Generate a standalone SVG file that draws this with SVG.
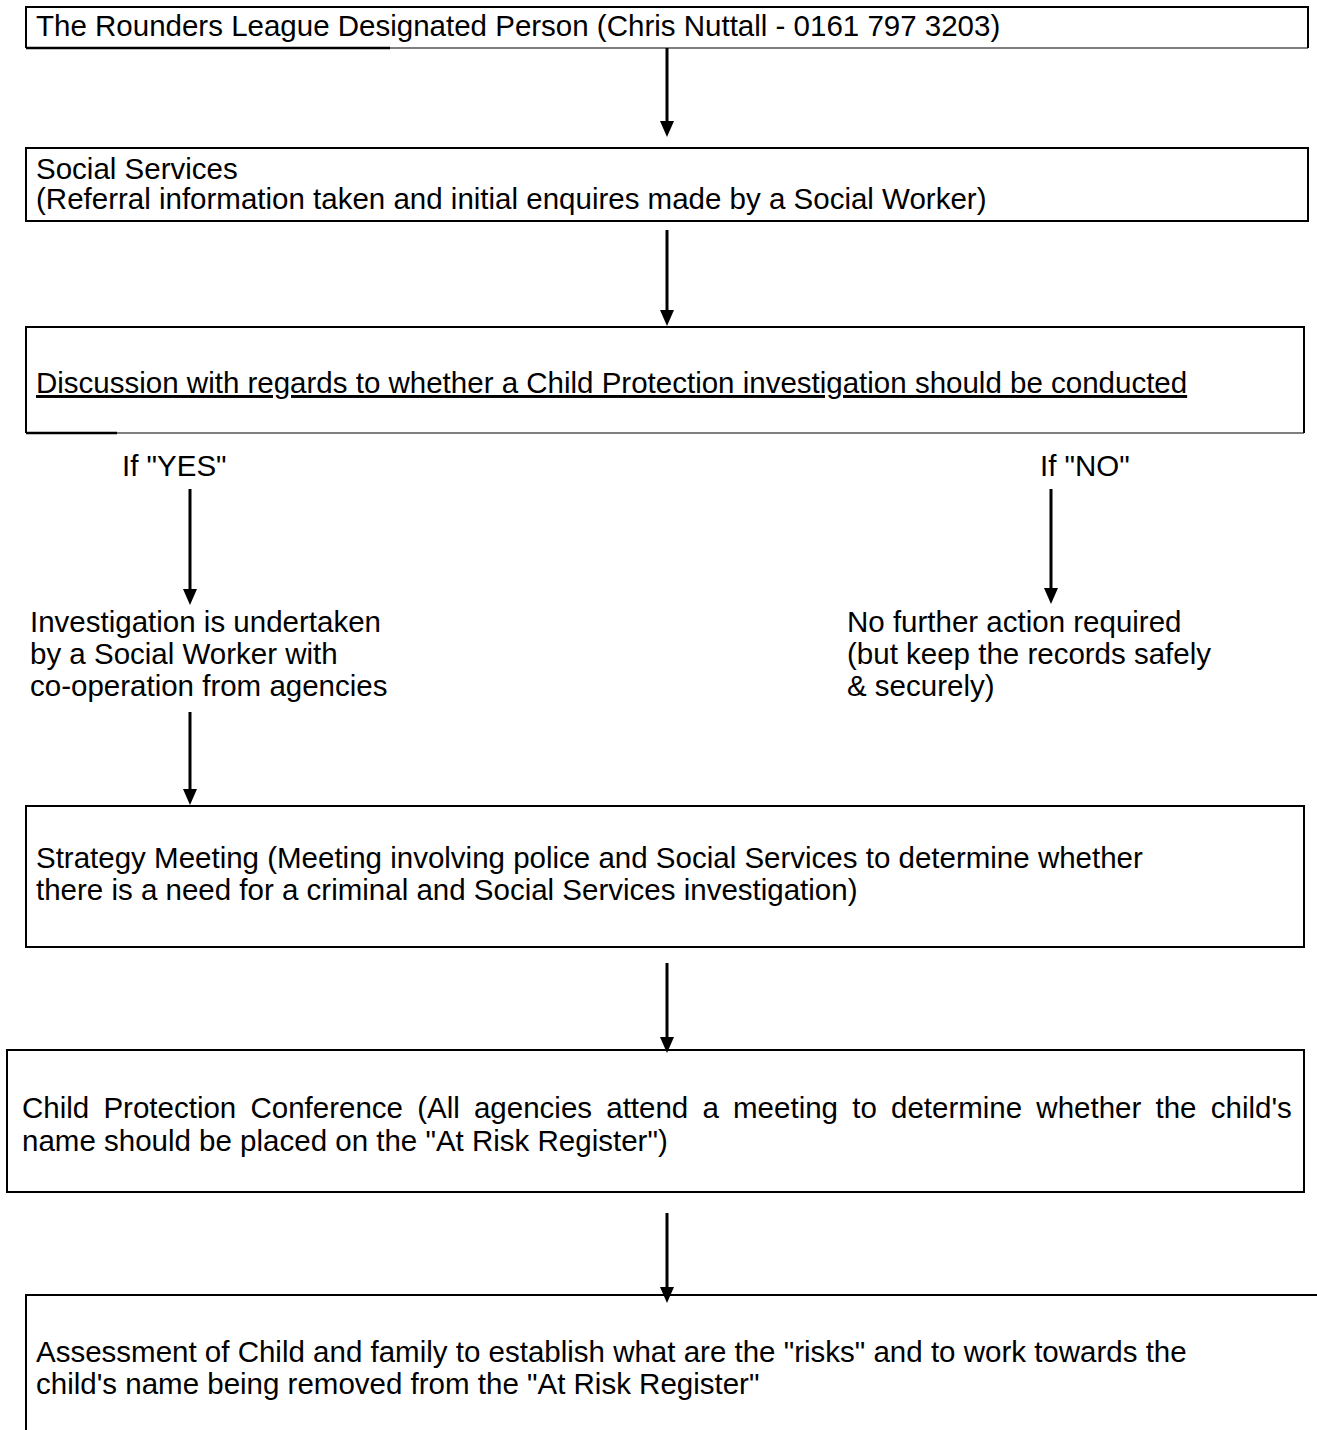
<svg xmlns="http://www.w3.org/2000/svg" width="1317" height="1430" viewBox="0 0 1317 1430">
<style>
  .box { fill: none; stroke: #000; stroke-width: 2; }
  .thin { fill: none; stroke: #000; stroke-width: 1.2; }
  .thick { fill: none; stroke: #000; stroke-width: 2.4; }
  .t { font-family: "Liberation Sans", Arial, sans-serif; font-size: 29.5px; fill: #000; }
  .conn { stroke: #000; stroke-width: 3; fill: none; marker-end: url(#ah); }
</style>
<defs>
  <marker id="ah" viewBox="0 0 16 14" refX="2" refY="7" markerWidth="16" markerHeight="14" markerUnits="userSpaceOnUse" orient="auto">
    <path d="M0,0 L16,7 L0,14 z" fill="#000"/>
  </marker>
</defs>
<rect width="1317" height="1430" fill="#fff"/>

<g id="connectors">
  <line class="conn" x1="667" y1="48" x2="667" y2="123"/>
  <line class="conn" x1="667" y1="230" x2="667" y2="312"/>
  <line class="conn" x1="190" y1="489" x2="190" y2="591"/>
  <line class="conn" x1="1051" y1="489" x2="1051" y2="590"/>
  <line class="conn" x1="190" y1="712" x2="190" y2="791"/>
  <line class="conn" x1="667" y1="963" x2="667" y2="1039"/>
  <line class="conn" x1="667" y1="1213" x2="667" y2="1289"/>
</g>

<g id="n1">
  <path class="box" d="M26,48 L26,7 L1308,7 L1308,48"/>
  <line class="thick" x1="26" y1="48" x2="390" y2="48"/>
  <line class="thin" x1="390" y1="48" x2="1308" y2="48"/>
  <text class="t" x="36" y="36">The Rounders League Designated Person (Chris Nuttall - 0161 797 3203)</text>
</g>

<g id="n2">
  <rect class="box" x="26" y="148" width="1282" height="73"/>
  <text class="t" x="36" y="179">Social Services</text>
  <text class="t" x="36" y="209">(Referral information taken and initial enquires made by a Social Worker)</text>
</g>

<g id="n3">
  <path class="box" d="M26,433 L26,327 L1304,327 L1304,433"/>
  <line class="thick" x1="26" y1="433" x2="117" y2="433"/>
  <line class="thin" x1="117" y1="433" x2="1304" y2="433"/>
  <text class="t" x="36" y="393" text-decoration="underline">Discussion with regards to whether a Child Protection investigation should be conducted</text>
</g>

<g id="n_yes">
  <text class="t" x="122" y="476">If "YES"</text>
</g>
<g id="n_no">
  <text class="t" x="1040" y="476">If "NO"</text>
</g>

<g id="n4">
  <text class="t" x="30" y="632">Investigation is undertaken</text>
  <text class="t" x="30" y="664">by a Social Worker with</text>
  <text class="t" x="30" y="696">co-operation from agencies</text>
</g>

<g id="n5">
  <text class="t" x="847" y="632">No further action required</text>
  <text class="t" x="847" y="664">(but keep the records safely</text>
  <text class="t" x="847" y="696">&amp; securely)</text>
</g>

<g id="n6">
  <rect class="box" x="26" y="806" width="1278" height="141"/>
  <text class="t" x="36" y="868">Strategy Meeting (Meeting involving police and Social Services to determine whether</text>
  <text class="t" x="36" y="900">there is a need for a criminal and Social Services investigation)</text>
</g>

<g id="n7">
  <rect class="box" x="7" y="1050" width="1297" height="142"/>
  <text class="t" x="22" y="1118" word-spacing="6">Child Protection Conference (All agencies attend a meeting to determine whether the child's</text>
  <text class="t" x="22" y="1151">name should be placed on the "At Risk Register")</text>
</g>

<g id="n8">
  <path class="box" d="M26,1430 L26,1295 L1317,1295"/>
  <text class="t" x="36" y="1362">Assessment of Child and family to establish what are the "risks" and to work towards the</text>
  <text class="t" x="36" y="1394">child's name being removed from the "At Risk Register"</text>
</g>
</svg>
